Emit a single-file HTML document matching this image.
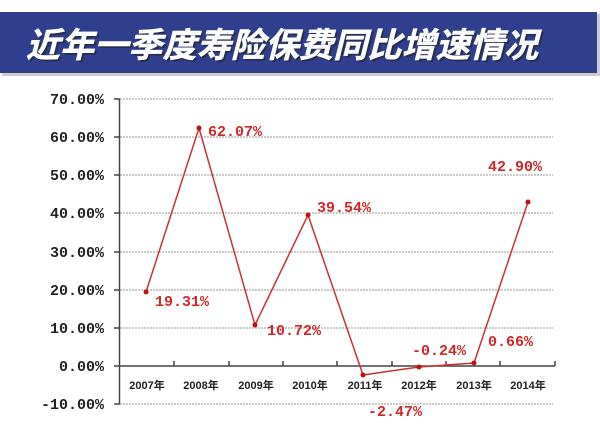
<!DOCTYPE html>
<html><head><meta charset="utf-8"><style>
body{margin:0;background:#fff;width:600px;height:440px;overflow:hidden}
</style></head><body>
<svg width="600" height="440" xmlns="http://www.w3.org/2000/svg">
<rect x="0" y="0" width="600" height="440" fill="#fff"/>
<rect x="2" y="14" width="598" height="62" fill="#ccc"/>
<rect x="0" y="12" width="597" height="61" fill="#2f3f8e"/>
<text x="26" y="57" font-family="Noto Sans CJK SC, sans-serif" font-weight="bold" font-size="34" font-style="italic" fill="#222" opacity="0.6" transform="translate(2,2)" textLength="512">近年一季度寿险保费同比增速情况</text>
<text x="26" y="57" font-family="Noto Sans CJK SC, sans-serif" font-weight="bold" font-size="34" font-style="italic" fill="#fff" stroke="#fff" stroke-width="0.5" textLength="512">近年一季度寿险保费同比增速情况</text>
<g stroke="#aaa" stroke-width="1.2" stroke-dasharray="2,1">
<line x1="120" y1="99" x2="553" y2="99"/><line x1="120" y1="137" x2="553" y2="137"/>
<line x1="120" y1="175" x2="553" y2="175"/><line x1="120" y1="213" x2="553" y2="213"/>
<line x1="120" y1="252" x2="553" y2="252"/><line x1="120" y1="290" x2="553" y2="290"/>
<line x1="120" y1="328" x2="553" y2="328"/><line x1="120" y1="404" x2="553" y2="404"/>
</g>
<g stroke="#444" stroke-width="1.5">
<line x1="119.5" y1="99" x2="119.5" y2="404"/>
<line x1="114" y1="99" x2="120" y2="99"/><line x1="114" y1="137" x2="120" y2="137"/><line x1="114" y1="175" x2="120" y2="175"/><line x1="114" y1="213" x2="120" y2="213"/><line x1="114" y1="252" x2="120" y2="252"/><line x1="114" y1="290" x2="120" y2="290"/><line x1="114" y1="328" x2="120" y2="328"/><line x1="114" y1="366" x2="120" y2="366"/><line x1="114" y1="404" x2="120" y2="404"/>
<line x1="119" y1="366" x2="555" y2="366"/>
<line x1="174" y1="361" x2="174" y2="366"/><line x1="229" y1="361" x2="229" y2="366"/><line x1="283" y1="361" x2="283" y2="366"/><line x1="337" y1="361" x2="337" y2="366"/><line x1="392" y1="361" x2="392" y2="366"/><line x1="446" y1="361" x2="446" y2="366"/><line x1="500" y1="361" x2="500" y2="366"/><line x1="555" y1="361" x2="555" y2="366"/>
</g>
<g font-family="Liberation Mono, monospace" font-weight="bold" font-size="15" fill="#222" text-anchor="end">
<text x="104" y="104">70.00%</text><text x="104" y="142">60.00%</text><text x="104" y="180">50.00%</text><text x="104" y="218">40.00%</text><text x="104" y="257">30.00%</text>
<text x="104" y="295">20.00%</text><text x="104" y="333">10.00%</text><text x="104" y="371">0.00%</text><text x="104" y="409">-10.00%</text>
</g>
<g font-family="Liberation Sans, Noto Sans CJK SC, sans-serif" font-weight="bold" font-size="11" fill="#222" text-anchor="middle">
<text x="147" y="389">2007年</text><text x="201" y="389">2008年</text><text x="256" y="389">2009年</text><text x="310" y="389">2010年</text><text x="365" y="389">2011年</text><text x="419" y="389">2012年</text><text x="474" y="389">2013年</text><text x="528" y="389">2014年</text>
</g>
<polyline fill="none" stroke="#d03030" stroke-width="1.5" points="146,292 199,128 255,325 308,215 363,375 419,367 474,363 528,202"/>
<g fill="#c01010"><circle cx="146" cy="292" r="2.5"/><circle cx="199" cy="128" r="2.5"/><circle cx="255" cy="325" r="2.5"/><circle cx="308" cy="215" r="2.5"/><circle cx="363" cy="375" r="2.5"/><circle cx="419" cy="367" r="2.5"/><circle cx="474" cy="363" r="2.5"/><circle cx="528" cy="202" r="2.5"/></g>
<g font-family="Liberation Mono, monospace" font-weight="bold" font-size="15" fill="#d02828">
<text x="208" y="136">62.07%</text><text x="155" y="306">19.31%</text><text x="267" y="335">10.72%</text><text x="317" y="212">39.54%</text>
<text x="368" y="416">-2.47%</text><text x="412" y="355">-0.24%</text><text x="488" y="346">0.66%</text><text x="488" y="171">42.90%</text>
</g>
</svg>
</body></html>
